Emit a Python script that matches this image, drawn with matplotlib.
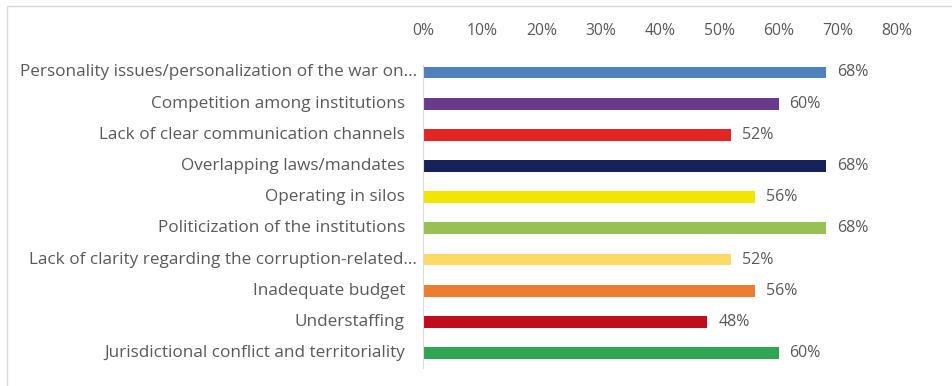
import matplotlib.pyplot as plt
from matplotlib.patches import Rectangle
from matplotlib.ticker import PercentFormatter, MultipleLocator
from matplotlib.transforms import offset_copy

plt.rcParams["font.family"] = ["Open Sans", "DejaVu Sans"]

categories = [
    "Personality issues/personalization of the war on...",
    "Competition among institutions",
    "Lack of clear communication channels",
    "Overlapping laws/mandates",
    "Operating in silos",
    "Politicization of the institutions",
    "Lack of clarity regarding the corruption-related...",
    "Inadequate budget",
    "Understaffing",
    "Jurisdictional conflict and territoriality",
]
values = [68, 60, 52, 68, 56, 68, 52, 56, 48, 60]
colors = ["#4F81BD", "#6A3B8C", "#E32526", "#16235A", "#F2E500",
          "#97C152", "#FFD966", "#ED7D31", "#C00D1E", "#2EA651"]

GREY = "#595959"

fig = plt.figure(figsize=(9.52, 3.86), dpi=100)
# outer chart frame
fig.patches.append(Rectangle((7 / 952, -0.1), 1.2, 1 - 6 / 386 + 0.1,
                             transform=fig.transFigure, fill=False,
                             edgecolor="#D9D9D9", linewidth=1))

ax = fig.add_axes([423 / 952, 1 - 368 / 386, (897 - 423) / 952, (368 - 65) / 386])
ypos = list(range(len(categories)))
ax.barh(ypos, values, height=0.38, color=colors)

ax.set_xlim(0, 80)
ax.set_ylim(9.48, -0.24)
ax.xaxis.set_major_locator(MultipleLocator(10))
ax.xaxis.set_major_formatter(PercentFormatter(decimals=0))
ax.xaxis.tick_top()
ax.tick_params(axis="x", length=0, pad=19, labelsize=11.3, labelcolor=GREY)
ax.set_yticks([])

for side in ["top", "right", "bottom"]:
    ax.spines[side].set_visible(False)
ax.spines["left"].set_color("#D9D9D9")

# category labels, truncated ones sit a bit closer to the axis
for y, name in zip(ypos, categories):
    dx = -6 if name.endswith("...") else -18
    tr = offset_copy(ax.get_yaxis_transform(), fig=fig, x=dx, y=0, units="dots")
    ax.text(0, y, name, transform=tr, ha="right", va="center",
            fontsize=12.3, color=GREY)

for y, v in zip(ypos, values):
    tr = offset_copy(ax.transData, fig=fig, x=11, y=0, units="dots")
    ax.text(v, y, f"{v}%", transform=tr, ha="left", va="center",
            fontsize=11.5, color=GREY)

fig.savefig("out.png", dpi=100)
